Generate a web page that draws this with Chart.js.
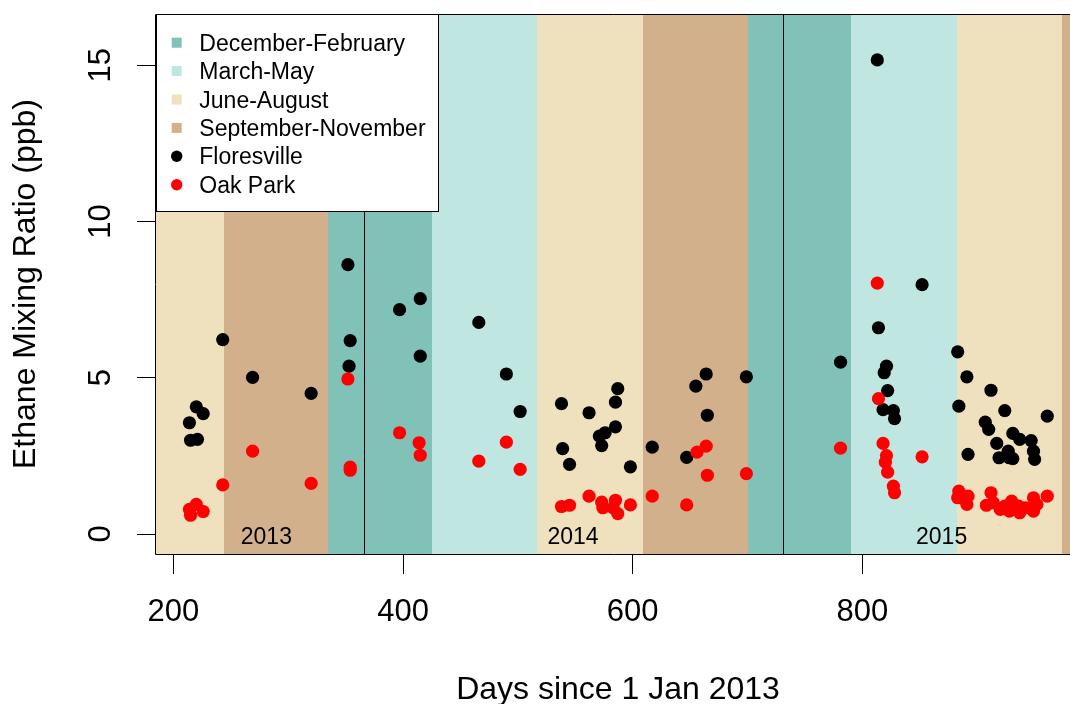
<!DOCTYPE html>
<html>
<head>
<meta charset="utf-8">
<script src="https://cdn.jsdelivr.net/npm/chart.js@4.4.1/dist/chart.umd.min.js"></script>
<style>
html,body{margin:0;padding:0;background:#fff;overflow:hidden}
#wrap{width:1070px;height:704px;position:relative}
</style>
</head>
<body>
<div id="wrap"><canvas id="c" width="1070" height="704"></canvas></div>
<script>
// ---- data ----
const floresvilleDays = [214, 215, 220, 221, 226, 243, 269, 320, 352, 354, 353, 397, 415, 415,
  466, 490, 502, 538, 539, 545, 562, 587, 585, 585, 576, 571, 573, 598,
  617, 647, 655, 664, 665, 699,
  781, 813, 814, 821, 819, 822, 818, 827, 828, 852,
  883, 891, 884, 892, 912, 924, 961, 907, 910, 931, 937, 947, 917, 927, 949, 919, 931, 950, 928];
const floresvilleEthane = [3.56, 3.00, 4.07, 3.03, 3.85, 6.22, 5.01, 4.50, 8.62, 6.19, 5.37, 7.18, 7.53, 5.69,
  6.77, 5.12, 3.92, 4.17, 2.73, 2.23, 3.88, 4.65, 4.22, 3.43, 3.24, 3.13, 2.83, 2.15,
  2.78, 2.45, 4.73, 5.12, 3.80, 5.03,
  5.50, 15.17, 6.60, 5.37, 5.16, 4.59, 3.98, 3.95, 3.69, 7.98,
  5.83, 5.03, 4.09, 2.55, 4.60, 3.95, 3.77, 3.58, 3.35, 3.22, 3.03, 2.99, 2.90, 2.65, 2.65, 2.44, 2.41, 2.39, 2.44];

const oakParkDays = [214, 215, 220, 226, 243, 269, 320, 352, 354, 354, 397, 414, 415,
  466, 490, 502, 538, 545, 562, 573, 574, 585, 583, 587, 598, 617,
  647, 656, 664, 665, 699,
  781, 813, 814, 818, 821, 820, 822, 827, 828, 852,
  884, 883, 892, 891, 912, 908, 914, 920, 924, 930, 928, 936, 937, 942, 949, 949, 952, 961];
const oakParkEthane = [0.79, 0.60, 0.95, 0.72, 1.57, 2.65, 1.62, 4.96, 2.14, 2.04, 3.24, 2.92, 2.52,
  2.33, 2.94, 2.07, 0.88, 0.92, 1.21, 1.02, 0.84, 1.08, 0.84, 0.65, 0.93, 1.21,
  0.93, 2.62, 2.81, 1.88, 1.93,
  2.75, 8.03, 4.33, 2.90, 2.51, 2.30, 1.98, 1.53, 1.32, 2.47,
  1.37, 1.16, 1.21, 0.95, 1.32, 0.92, 1.00, 0.79, 0.89, 1.05, 0.73, 0.89, 0.68, 0.84, 1.16, 0.73, 0.95, 1.21];

const seasonNames = ['December-February', 'March-May', 'June-August', 'September-November'];
const seasonColors = ['#80C2B8', '#BFE6E0', '#EFE0BE', '#D2B08C'];
const seasonBoundaryDays = [152, 244, 335, 425, 517, 609, 700, 790, 882, 974, 1065];
const seasonOfBand = [2, 3, 0, 1, 2, 3, 0, 1, 2, 3];
const yearStartDays = [366, 731];
const yearLabels = ['2013', '2014', '2015'];
const yearLabelDays = [281, 548, 869];
const seriesNames = ['Floresville', 'Oak Park'];
const seriesColors = ['#000000', '#FF0000'];
const xTicks = [200, 400, 600, 800];
const yTicks = [0, 5, 10, 15];
const xTitle = 'Days since 1 Jan 2013';
const yTitle = 'Ethane Mixing Ratio (ppb)';

const FONT = '"Liberation Sans", Arial, Helvetica, sans-serif';

const toPoints = (xs, ys) => xs.map((d, i) => ({x: d, y: ys[i]}));

const decorPlugin = {
  id: 'decor',
  beforeDatasetsDraw(chart) {
    const {ctx, chartArea: a, scales: {x, y}} = chart;
    ctx.save();
    ctx.beginPath();
    ctx.rect(a.left, a.top, a.right - a.left, a.bottom - a.top);
    ctx.clip();
    for (let i = 0; i < seasonOfBand.length; i++) {
      const x0 = Math.round(x.getPixelForValue(seasonBoundaryDays[i]));
      const x1 = Math.round(x.getPixelForValue(seasonBoundaryDays[i + 1]));
      ctx.fillStyle = seasonColors[seasonOfBand[i]];
      ctx.fillRect(x0, a.top, x1 - x0, a.bottom - a.top);
    }
    ctx.strokeStyle = '#000';
    ctx.lineWidth = 1;
    yearStartDays.forEach(d => {
      const px = Math.round(x.getPixelForValue(d)) + 0.5;
      ctx.beginPath();
      ctx.moveTo(px, a.top);
      ctx.lineTo(px, a.bottom);
      ctx.stroke();
    });
    ctx.fillStyle = '#000';
    ctx.font = '23px ' + FONT;
    ctx.textAlign = 'center';
    ctx.textBaseline = 'alphabetic';
    yearLabels.forEach((t, i) => {
      ctx.fillText(t, x.getPixelForValue(yearLabelDays[i]), y.getPixelForValue(0) + 10);
    });
    ctx.restore();
  },
  afterDraw(chart) {
    const {ctx, chartArea: a, scales: {y}} = chart;
    ctx.save();
    // plot box (left, top, bottom)
    ctx.strokeStyle = '#000';
    ctx.lineWidth = 1;
    ctx.beginPath();
    ctx.moveTo(a.right + 1, a.top + 0.5);
    ctx.lineTo(a.left - 0.5, a.top + 0.5);
    ctx.lineTo(a.left - 0.5, a.bottom + 0.5);
    ctx.lineTo(a.right + 1, a.bottom + 0.5);
    ctx.stroke();

    // rotated y tick labels
    ctx.fillStyle = '#000';
    ctx.font = '31px ' + FONT;
    ctx.textAlign = 'center';
    ctx.textBaseline = 'alphabetic';
    yTicks.forEach(v => {
      ctx.save();
      ctx.translate(110, y.getPixelForValue(v));
      ctx.rotate(-Math.PI / 2);
      ctx.fillText(String(v), 0, 0);
      ctx.restore();
    });

    // axis titles
    ctx.font = '32px ' + FONT;
    ctx.fillText(xTitle, 618, 699);
    ctx.save();
    ctx.translate(35, (a.top + a.bottom) / 2);
    ctx.rotate(-Math.PI / 2);
    ctx.fillText(yTitle, 0, 0);
    ctx.restore();

    // legend
    const lx0 = 156.5, ly0 = 14.5, lx1 = 438.5, ly1 = 211.5;
    ctx.fillStyle = '#fff';
    ctx.fillRect(lx0, ly0, lx1 - lx0, ly1 - ly0);
    ctx.strokeStyle = '#000';
    ctx.strokeRect(lx0, ly0, lx1 - lx0, ly1 - ly0);
    const labels = seasonNames.concat(seriesNames);
    ctx.font = '23px ' + FONT;
    ctx.textAlign = 'left';
    labels.forEach((t, i) => {
      const base = 50.7 + i * 28.4;
      const cy = base - 8;
      if (i < seasonNames.length) {
        ctx.fillStyle = seasonColors[i];
        ctx.fillRect(171.7, cy - 5, 10, 10);
      } else {
        ctx.fillStyle = seriesColors[i - seasonNames.length];
        ctx.beginPath();
        ctx.arc(176.7, cy, 5.7, 0, Math.PI * 2);
        ctx.fill();
      }
      ctx.fillStyle = '#000';
      ctx.fillText(t, 199.3, base);
    });
    ctx.restore();
  }
};

new Chart(document.getElementById('c'), {
  type: 'scatter',
  data: {
    datasets: [
      {label: seriesNames[0], data: toPoints(floresvilleDays, floresvilleEthane),
       backgroundColor: seriesColors[0], pointBackgroundColor: seriesColors[0],
       pointRadius: 6.6, pointHoverRadius: 6.6, pointBorderWidth: 0, order: 1},
      {label: seriesNames[1], data: toPoints(oakParkDays, oakParkEthane),
       backgroundColor: seriesColors[1], pointBackgroundColor: seriesColors[1],
       pointRadius: 6.6, pointHoverRadius: 6.6, pointBorderWidth: 0, order: 0}
    ]
  },
  options: {
    responsive: false,
    devicePixelRatio: 1,
    animation: false,
    events: [],
    layout: {autoPadding: false, padding: {top: 14, right: 0, bottom: 0, left: 0}},
    plugins: {legend: {display: false}, tooltip: {enabled: false}},
    scales: {
      x: {
        type: 'linear', min: 184.9, max: 980.8,
        afterBuildTicks: s => { s.ticks = xTicks.map(v => ({value: v})); },
        afterFit: s => { s.height = 150; },
        grid: {display: true, drawOnChartArea: false, drawTicks: true, tickLength: 20, color: '#000', lineWidth: 1},
        border: {display: false},
        ticks: {color: '#000', font: {family: FONT, size: 31, lineHeight: 1.2}, padding: 20, maxRotation: 0, minRotation: 0, autoSkip: false}
      },
      y: {
        type: 'linear', min: -0.64, max: 16.64,
        afterBuildTicks: s => { s.ticks = yTicks.map(v => ({value: v})); },
        afterFit: s => { s.width = 156; },
        grid: {display: true, drawOnChartArea: false, drawTicks: true, tickLength: 19, color: '#000', lineWidth: 1},
        border: {display: false},
        ticks: {display: false}
      }
    }
  },
  plugins: [decorPlugin]
});
</script>
</body>
</html>
